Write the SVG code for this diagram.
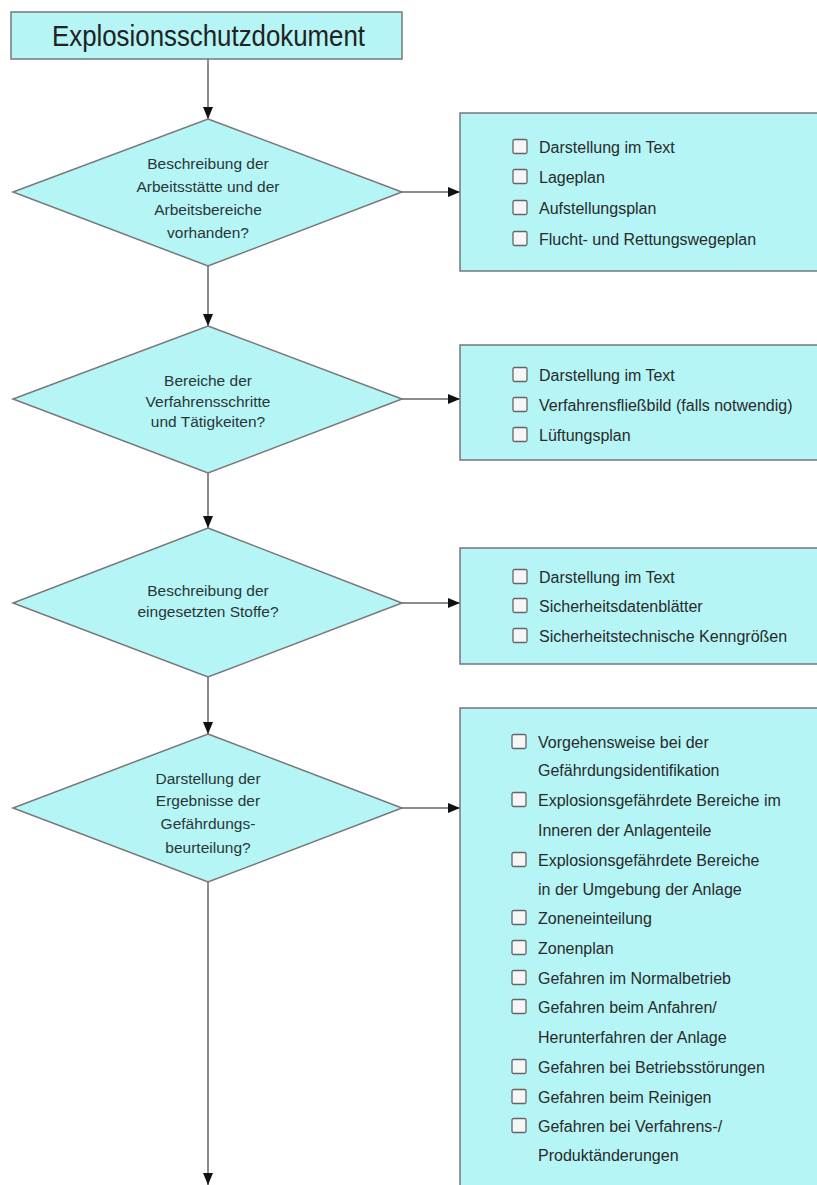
<svg xmlns="http://www.w3.org/2000/svg" width="817" height="1185" viewBox="0 0 817 1185">
<style>
.shape{fill:#b5f5f5;stroke:#777;stroke-width:1.5}
.t{font-family:"Liberation Sans",Arial,sans-serif;font-size:15.5px;fill:#2a3535;text-anchor:middle}
.i{font-family:"Liberation Sans",Arial,sans-serif;font-size:16px;fill:#2a2a2a}
.cb{fill:#f6f6f6;stroke:#666;stroke-width:1.3}
.c{stroke:#666;stroke-width:1.5;fill:none}
</style>
<defs>
<marker id="ah" markerWidth="12" markerHeight="10" refX="12" refY="5" orient="auto" markerUnits="userSpaceOnUse">
<path d="M0,0 L12,5 L0,10 Z" fill="#111"/>
</marker>
<symbol id="box" overflow="visible"><rect x="0" y="-0.5" width="14" height="14" rx="1.5" class="cb"/></symbol>
</defs>
<rect width="817" height="1185" fill="#fff"/>

<g id="connectors">
<line class="c" x1="208" y1="59" x2="208" y2="119" marker-end="url(#ah)"/>
<line class="c" x1="208" y1="266" x2="208" y2="326" marker-end="url(#ah)"/>
<line class="c" x1="208" y1="473" x2="208" y2="528" marker-end="url(#ah)"/>
<line class="c" x1="208" y1="677" x2="208" y2="734" marker-end="url(#ah)"/>
<line class="c" x1="208" y1="882" x2="208" y2="1185" marker-end="url(#ah)"/>
<line class="c" x1="402" y1="192" x2="460" y2="192" marker-end="url(#ah)"/>
<line class="c" x1="402" y1="399" x2="460" y2="399" marker-end="url(#ah)"/>
<line class="c" x1="402" y1="603" x2="460" y2="603" marker-end="url(#ah)"/>
<line class="c" x1="402" y1="808" x2="460" y2="808" marker-end="url(#ah)"/>
</g>

<g id="title">
<rect class="shape" x="11" y="12" width="391" height="47"/>
<text x="208.5" y="46" style="font-family:'Liberation Sans',Arial,sans-serif;font-size:29px;fill:#222" text-anchor="middle" textLength="313" lengthAdjust="spacingAndGlyphs">Explosionsschutzdokument</text>
</g>

<g id="d1">
<polygon class="shape" points="208,119 402,192 208,266 13,192"/>
<text class="t" x="208" y="169">Beschreibung der</text>
<text class="t" x="208" y="192">Arbeitsstätte und der</text>
<text class="t" x="208" y="215">Arbeitsbereiche</text>
<text class="t" x="208" y="238">vorhanden?</text>
</g>

<g id="b1">
<rect class="shape" x="460" y="113" width="370" height="158"/>
<use href="#box" x="513" y="140"/><text class="i" x="539" y="153">Darstellung im Text</text>
<use href="#box" x="513" y="170"/><text class="i" x="539" y="183">Lageplan</text>
<use href="#box" x="513" y="201"/><text class="i" x="539" y="214">Aufstellungsplan</text>
<use href="#box" x="513" y="232"/><text class="i" x="539" y="245">Flucht- und Rettungswegeplan</text>
</g>

<g id="d2">
<polygon class="shape" points="208,326 402,399 208,473 13,399"/>
<text class="t" x="208" y="386">Bereiche der</text>
<text class="t" x="208" y="407">Verfahrensschritte</text>
<text class="t" x="208" y="427">und Tätigkeiten?</text>
</g>

<g id="b2">
<rect class="shape" x="460" y="345" width="370" height="115"/>
<use href="#box" x="513" y="368"/><text class="i" x="539" y="381">Darstellung im Text</text>
<use href="#box" x="513" y="398"/><text class="i" x="539" y="411">Verfahrensfließbild (falls notwendig)</text>
<use href="#box" x="513" y="428"/><text class="i" x="539" y="441">Lüftungsplan</text>
</g>

<g id="d3">
<polygon class="shape" points="208,528 402,603 208,677 13,603"/>
<text class="t" x="208" y="596">Beschreibung der</text>
<text class="t" x="208" y="617">eingesetzten Stoffe?</text>
</g>

<g id="b3">
<rect class="shape" x="460" y="548" width="370" height="116"/>
<use href="#box" x="513" y="570"/><text class="i" x="539" y="583">Darstellung im Text</text>
<use href="#box" x="513" y="599"/><text class="i" x="539" y="612">Sicherheitsdatenblätter</text>
<use href="#box" x="513" y="629"/><text class="i" x="539" y="642">Sicherheitstechnische Kenngrößen</text>
</g>

<g id="d4">
<polygon class="shape" points="208,734 402,808 208,882 13,808"/>
<text class="t" x="208" y="784">Darstellung der</text>
<text class="t" x="208" y="806">Ergebnisse der</text>
<text class="t" x="208" y="829">Gefährdungs-</text>
<text class="t" x="208" y="853">beurteilung?</text>
</g>

<g id="b4">
<rect class="shape" x="460" y="708" width="370" height="500"/>
<use href="#box" x="512" y="735"/><text class="i" x="538" y="748">Vorgehensweise bei der</text>
<text class="i" x="538" y="776">Gefährdungsidentifikation</text>
<use href="#box" x="512" y="793"/><text class="i" x="538" y="806">Explosionsgefährdete Bereiche im</text>
<text class="i" x="538" y="836">Inneren der Anlagenteile</text>
<use href="#box" x="512" y="853"/><text class="i" x="538" y="866">Explosionsgefährdete Bereiche</text>
<text class="i" x="538" y="895">in der Umgebung der Anlage</text>
<use href="#box" x="512" y="911"/><text class="i" x="538" y="924">Zoneneinteilung</text>
<use href="#box" x="512" y="941"/><text class="i" x="538" y="954">Zonenplan</text>
<use href="#box" x="512" y="971"/><text class="i" x="538" y="984">Gefahren im Normalbetrieb</text>
<use href="#box" x="512" y="1000"/><text class="i" x="538" y="1013">Gefahren beim Anfahren/</text>
<text class="i" x="538" y="1043">Herunterfahren der Anlage</text>
<use href="#box" x="512" y="1060"/><text class="i" x="538" y="1073">Gefahren bei Betriebsstörungen</text>
<use href="#box" x="512" y="1090"/><text class="i" x="538" y="1103">Gefahren beim Reinigen</text>
<use href="#box" x="512" y="1119"/><text class="i" x="538" y="1132">Gefahren bei Verfahrens-/</text>
<text class="i" x="538" y="1161">Produktänderungen</text>
</g>
</svg>
